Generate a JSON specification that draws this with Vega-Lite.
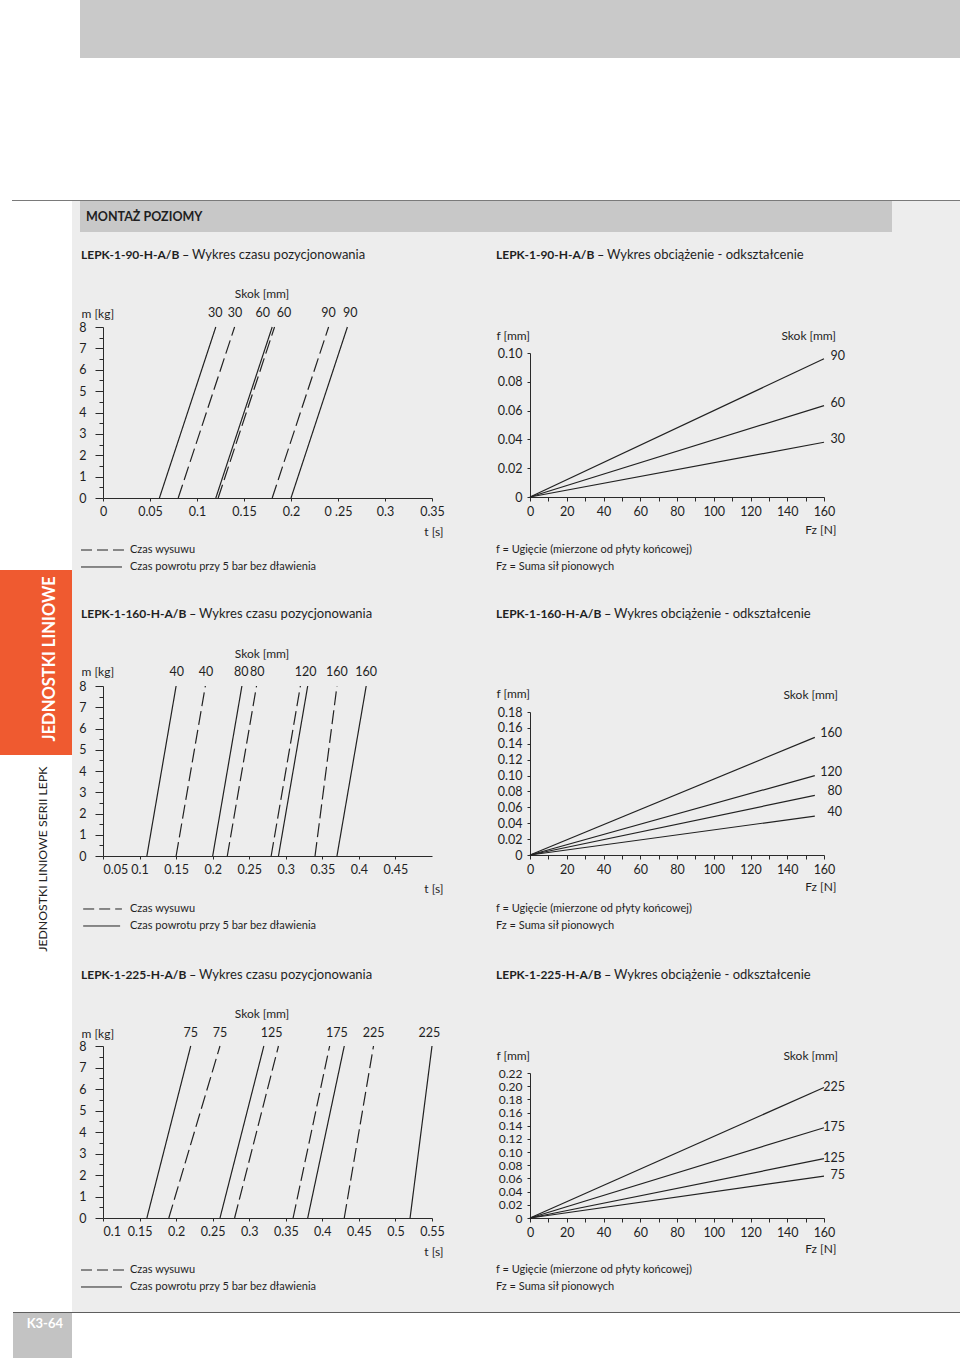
{
  "$schema": "https://vega.github.io/schema/vega-lite/v6.json",
  "background": "#ededed",
  "padding": 0,
  "spacing": 0,
  "config": {
    "view": {"stroke": null},
    "font": "Lato",
    "concat": {"spacing": 0},
    "text": {"font": "Lato", "color": "#1f1f1f", "baseline": "middle", "align": "center"},
    "axis": {
      "grid": false, "labelFont": "Lato", "labelFontSize": 12.5, "labelColor": "#1f1f1f",
      "titleFont": "Lato", "titleFontSize": 12, "titleFontWeight": "normal", "titleColor": "#1f1f1f",
      "domainColor": "#2a2a2a", "tickColor": "#2a2a2a", "labelFlush": false, "labelOverlap": false,
      "titleAngle": 0, "titleBaseline": "middle"
    }
  },
  "datasets": {
    "l1": [
      {"seria": "30-p", "typ": "powrot", "t": 0.06, "m": 0}, {"seria": "30-p", "typ": "powrot", "t": 0.12, "m": 8},
      {"seria": "30-w", "typ": "wysuw", "t": 0.08, "m": 0}, {"seria": "30-w", "typ": "wysuw", "t": 0.14, "m": 8},
      {"seria": "60-p", "typ": "powrot", "t": 0.12, "m": 0}, {"seria": "60-p", "typ": "powrot", "t": 0.18, "m": 8},
      {"seria": "60-w", "typ": "wysuw", "t": 0.1225, "m": 0}, {"seria": "60-w", "typ": "wysuw", "t": 0.1825, "m": 8},
      {"seria": "90-w", "typ": "wysuw", "t": 0.18, "m": 0}, {"seria": "90-w", "typ": "wysuw", "t": 0.24, "m": 8},
      {"seria": "90-p", "typ": "powrot", "t": 0.2, "m": 0}, {"seria": "90-p", "typ": "powrot", "t": 0.26, "m": 8}
    ],
    "k1": [
      {"skok": "30", "t": 0.1194}, {"skok": "30", "t": 0.1404}, {"skok": "60", "t": 0.17},
      {"skok": "60", "t": 0.1926}, {"skok": "90", "t": 0.24}, {"skok": "90", "t": 0.263}
    ],
    "l2": [
      {"seria": "40-p", "typ": "powrot", "t": 0.11, "m": 0}, {"seria": "40-p", "typ": "powrot", "t": 0.15, "m": 8},
      {"seria": "40-w", "typ": "wysuw", "t": 0.15, "m": 0}, {"seria": "40-w", "typ": "wysuw", "t": 0.19, "m": 8},
      {"seria": "80-p", "typ": "powrot", "t": 0.2, "m": 0}, {"seria": "80-p", "typ": "powrot", "t": 0.24, "m": 8},
      {"seria": "80-w", "typ": "wysuw", "t": 0.22, "m": 0}, {"seria": "80-w", "typ": "wysuw", "t": 0.26, "m": 8},
      {"seria": "120-w", "typ": "wysuw", "t": 0.28, "m": 0}, {"seria": "120-w", "typ": "wysuw", "t": 0.32, "m": 8},
      {"seria": "120-p", "typ": "powrot", "t": 0.29, "m": 0}, {"seria": "120-p", "typ": "powrot", "t": 0.33, "m": 8},
      {"seria": "160-w", "typ": "wysuw", "t": 0.34, "m": 0}, {"seria": "160-w", "typ": "wysuw", "t": 0.37, "m": 8},
      {"seria": "160-p", "typ": "powrot", "t": 0.37, "m": 0}, {"seria": "160-p", "typ": "powrot", "t": 0.41, "m": 8}
    ],
    "k2": [
      {"skok": "40", "t": 0.151}, {"skok": "40", "t": 0.191}, {"skok": "80", "t": 0.239}, {"skok": "80", "t": 0.261},
      {"skok": "120", "t": 0.327}, {"skok": "160", "t": 0.37}, {"skok": "160", "t": 0.41}
    ],
    "l3": [
      {"seria": "75-p", "typ": "powrot", "t": 0.16, "m": 0}, {"seria": "75-p", "typ": "powrot", "t": 0.22, "m": 8},
      {"seria": "75-w", "typ": "wysuw", "t": 0.19, "m": 0}, {"seria": "75-w", "typ": "wysuw", "t": 0.26, "m": 8},
      {"seria": "125-p", "typ": "powrot", "t": 0.26, "m": 0}, {"seria": "125-p", "typ": "powrot", "t": 0.32, "m": 8},
      {"seria": "125-w", "typ": "wysuw", "t": 0.28, "m": 0}, {"seria": "125-w", "typ": "wysuw", "t": 0.34, "m": 8},
      {"seria": "175-w", "typ": "wysuw", "t": 0.36, "m": 0}, {"seria": "175-w", "typ": "wysuw", "t": 0.41, "m": 8},
      {"seria": "175-p", "typ": "powrot", "t": 0.38, "m": 0}, {"seria": "175-p", "typ": "powrot", "t": 0.43, "m": 8},
      {"seria": "225-w", "typ": "wysuw", "t": 0.43, "m": 0}, {"seria": "225-w", "typ": "wysuw", "t": 0.47, "m": 8},
      {"seria": "225-p", "typ": "powrot", "t": 0.52, "m": 0}, {"seria": "225-p", "typ": "powrot", "t": 0.55, "m": 8}
    ],
    "k3": [
      {"skok": "75", "t": 0.22}, {"skok": "75", "t": 0.26}, {"skok": "125", "t": 0.3305},
      {"skok": "175", "t": 0.42}, {"skok": "225", "t": 0.47}, {"skok": "225", "t": 0.5464}
    ],
    "r1": [
      {"skok": "30", "Fz": 0, "f": 0}, {"skok": "30", "Fz": 160, "f": 0.038},
      {"skok": "60", "Fz": 0, "f": 0}, {"skok": "60", "Fz": 160, "f": 0.0635},
      {"skok": "90", "Fz": 0, "f": 0}, {"skok": "90", "Fz": 160, "f": 0.096}
    ],
    "r2": [
      {"skok": "40", "Fz": 0, "f": 0}, {"skok": "40", "Fz": 155, "f": 0.049},
      {"skok": "80", "Fz": 0, "f": 0}, {"skok": "80", "Fz": 155, "f": 0.075},
      {"skok": "120", "Fz": 0, "f": 0}, {"skok": "120", "Fz": 155, "f": 0.1},
      {"skok": "160", "Fz": 0, "f": 0}, {"skok": "160", "Fz": 155, "f": 0.148}
    ],
    "r3": [
      {"skok": "75", "Fz": 0, "f": 0}, {"skok": "75", "Fz": 160, "f": 0.0635},
      {"skok": "125", "Fz": 0, "f": 0}, {"skok": "125", "Fz": 160, "f": 0.09},
      {"skok": "175", "Fz": 0, "f": 0}, {"skok": "175", "Fz": 160, "f": 0.137},
      {"skok": "225", "Fz": 0, "f": 0}, {"skok": "225", "Fz": 160, "f": 0.198}
    ]
  },
  "vconcat": [
    {
      "hconcat": [
        {"width": 80, "height": 58, "view": {"fill": "#ffffff"}, "data": {"values": [{}]}, "mark": {"type": "text", "text": "", "fontSize": 0}, "encoding": {}},
        {"width": 880, "height": 58, "view": {"fill": "#c9c9c9"}, "data": {"values": [{}]}, "mark": {"type": "text", "text": "", "fontSize": 0}, "encoding": {}}
      ],
      "spacing": 0
    },
    {"width": 960, "height": 142, "view": {"fill": "#ffffff"}, "data": {"values": [{}]}, "mark": {"type": "text", "text": "", "fontSize": 0}, "encoding": {}},
    {
      "hconcat": [
        {"width": 12, "height": 1, "view": {"fill": "#ffffff"}, "data": {"values": [{}]}, "mark": {"type": "text", "text": "", "fontSize": 0}, "encoding": {}},
        {"width": 948, "height": 1, "view": {"fill": "#7a7a7a"}, "data": {"values": [{}]}, "mark": {"type": "text", "text": "", "fontSize": 0}, "encoding": {}}
      ],
      "spacing": 0
    },
    {
      "hconcat": [
        {
          "vconcat": [
            {"width": 72, "height": 369, "view": {"fill": "#ffffff"}, "data": {"values": [{}]}, "mark": {"type": "text", "text": "", "fontSize": 0}, "encoding": {}},
            {
              "width": 72, "height": 185, "view": {"fill": "#ef5a30"},
              "data": {"values": [{}]},
              "mark": {"type": "text", "text": "JEDNOSTKI LINIOWE", "angle": 270, "color": "#ffffff", "fontWeight": "bold", "fontSize": 16.5, "align": "center", "baseline": "middle"},
              "encoding": {
                "x": {"datum": 0.69, "type": "quantitative", "scale": {"domain": [0, 1]}, "axis": null},
                "y": {"datum": 0.52, "type": "quantitative", "scale": {"domain": [0, 1]}, "axis": null}
              }
            },
            {
              "width": 72, "height": 557, "view": {"fill": "#ffffff"},
              "data": {"values": [{}]},
              "mark": {"type": "text", "text": "JEDNOSTKI LINIOWE SERII LEPK", "angle": 270, "color": "#222222", "fontSize": 12.3, "align": "center", "baseline": "middle"},
              "encoding": {
                "x": {"datum": 0.6, "type": "quantitative", "scale": {"domain": [0, 1]}, "axis": null},
                "y": {"datum": 0.813, "type": "quantitative", "scale": {"domain": [0, 1]}, "axis": null}
              }
            }
          ],
          "spacing": 0
        },
        {
          "vconcat": [
            {
              "hconcat": [
                {"width": 8, "height": 31, "data": {"values": [{}]}, "mark": {"type": "text", "text": "", "fontSize": 0}, "encoding": {}},
                {
                  "width": 812, "height": 31, "view": {"fill": "#c8c8c8"},
                  "data": {"values": [{}]},
                  "mark": {"type": "text", "text": "MONTAŻ POZIOMY", "fontWeight": "bold", "fontSize": 12.5, "align": "left", "baseline": "middle", "color": "#1f1f1f"},
                  "encoding": {
                    "x": {"datum": 0.0074, "type": "quantitative", "scale": {"domain": [0, 1]}, "axis": null},
                    "y": {"datum": 0.5, "type": "quantitative", "scale": {"domain": [0, 1]}, "axis": null}
                  }
                }
              ],
              "spacing": 0
            },
            {
              "width": 888,
              "height": 1080,
              "layer": [
                {
                  "layer": [
                    {
                      "data": {"name": "l1"},
                      "mark": {"type": "line", "color": "#222222", "strokeWidth": 1.2},
                      "encoding": {
                        "x": {"field": "t", "type": "quantitative", "scale": {"domain": [0, 0.35], "range": [31, 360]},
                          "axis": {"orient": "bottom", "offset": -814, "values": [0, 0.05, 0.1, 0.15, 0.2, 0.25, 0.3, 0.35], "labelExpr": "datum.value == 0.25 ? '0 .25' : toString(datum.value)", "tickSize": 3, "labelPadding": 4, "title": "t [s]", "titleX": 371, "titleY": 33, "titleAlign": "right"}},
                        "y": {"field": "m", "type": "quantitative", "scale": {"domain": [0, 8], "range": [266, 95]},
                          "axis": {"orient": "left", "offset": -31, "values": [0, 0.5, 1, 1.5, 2, 2.5, 3, 3.5, 4, 4.5, 5, 5.5, 6, 6.5, 7, 7.5, 8], "labelExpr": "datum.value % 1 == 0 ? toString(datum.value) : ''", "tickSize": {"condition": {"test": "datum.value % 1 == 0", "value": 8}, "value": 4}, "labelPadding": 9, "title": "m [kg]", "titleX": -22, "titleY": 81, "titleAlign": "left"}},
                        "detail": {"field": "seria"},
                        "strokeDash": {"field": "typ", "type": "nominal", "scale": {"domain": ["wysuw", "powrot"], "range": [[14, 5], [1, 0]]}, "legend": null}
                      }
                    },
                    {
                      "data": {"name": "k1"},
                      "mark": {"type": "text", "dy": -14, "fontSize": 12.5},
                      "encoding": {"x": {"field": "t", "type": "quantitative"}, "y": {"datum": 8, "type": "quantitative"}, "text": {"field": "skok"}}
                    },
                    {"data": {"values": [{}]}, "mark": {"type": "text", "text": "Skok [mm]", "dx": 159, "dy": -33, "fontSize": 12}, "encoding": {"x": {"datum": 0, "type": "quantitative"}, "y": {"datum": 8, "type": "quantitative"}}},
                    {"data": {"values": [{}]}, "mark": {"type": "text", "text": "LEPK-1-90-H-A/B –", "align": "left", "fontWeight": "bold", "fontSize": 12, "dx": -22, "dy": -72}, "encoding": {"x": {"datum": 0, "type": "quantitative"}, "y": {"datum": 8, "type": "quantitative"}}},
                    {"data": {"values": [{}]}, "mark": {"type": "text", "text": "Wykres czasu pozycjonowania", "align": "left", "fontSize": 13, "dx": 89, "dy": -72}, "encoding": {"x": {"datum": 0, "type": "quantitative"}, "y": {"datum": 8, "type": "quantitative"}}},
                    {"data": {"values": [{}]}, "mark": {"type": "rule", "color": "#222222", "strokeDash": [11, 5]}, "encoding": {"x": {"datum": -0.0234, "type": "quantitative"}, "x2": {"datum": 0.0223}, "y": {"datum": -2.433, "type": "quantitative"}}},
                    {"data": {"values": [{}]}, "mark": {"type": "rule", "color": "#222222"}, "encoding": {"x": {"datum": -0.0234, "type": "quantitative"}, "x2": {"datum": 0.0202}, "y": {"datum": -3.228, "type": "quantitative"}}},
                    {"data": {"values": [{}]}, "mark": {"type": "text", "text": "Czas wysuwu", "align": "left", "fontSize": 11, "dx": 27, "dy": 52}, "encoding": {"x": {"datum": 0, "type": "quantitative"}, "y": {"datum": 0, "type": "quantitative"}}},
                    {"data": {"values": [{}]}, "mark": {"type": "text", "text": "Czas powrotu przy 5 bar bez dławienia", "align": "left", "fontSize": 11, "dx": 27, "dy": 69}, "encoding": {"x": {"datum": 0, "type": "quantitative"}, "y": {"datum": 0, "type": "quantitative"}}}
                  ]
                },
                {
                  "layer": [
                    {
                      "data": {"name": "l2"},
                      "mark": {"type": "line", "color": "#222222", "strokeWidth": 1.2},
                      "encoding": {
                        "x": {"field": "t", "type": "quantitative", "scale": {"domain": [0.05, 0.455], "range": [31, 360]},
                          "axis": {"orient": "bottom", "offset": -456, "values": [0.05, 0.1, 0.15, 0.2, 0.25, 0.3, 0.35, 0.4, 0.45], "labelExpr": "toString(datum.value)", "labelAlign": {"condition": {"test": "datum.value == 0.05", "value": "left"}, "value": "center"}, "tickSize": 3, "labelPadding": 4, "title": "t [s]", "titleX": 371, "titleY": 32, "titleAlign": "right"}},
                        "y": {"field": "m", "type": "quantitative", "scale": {"domain": [0, 8], "range": [624, 454]},
                          "axis": {"orient": "left", "offset": -31, "values": [0, 0.5, 1, 1.5, 2, 2.5, 3, 3.5, 4, 4.5, 5, 5.5, 6, 6.5, 7, 7.5, 8], "labelExpr": "datum.value % 1 == 0 ? toString(datum.value) : ''", "tickSize": {"condition": {"test": "datum.value % 1 == 0", "value": 8}, "value": 4}, "labelPadding": 9, "title": "m [kg]", "titleX": -22, "titleY": 439, "titleAlign": "left"}},
                        "detail": {"field": "seria"},
                        "strokeDash": {"field": "typ", "type": "nominal", "scale": {"domain": ["wysuw", "powrot"], "range": [[14, 5], [1, 0]]}, "legend": null}
                      }
                    },
                    {
                      "data": {"name": "k2"},
                      "mark": {"type": "text", "dy": -14, "fontSize": 12.5},
                      "encoding": {"x": {"field": "t", "type": "quantitative"}, "y": {"datum": 8, "type": "quantitative"}, "text": {"field": "skok"}}
                    },
                    {"data": {"values": [{}]}, "mark": {"type": "text", "text": "Skok [mm]", "dx": 159, "dy": -32, "fontSize": 12}, "encoding": {"x": {"datum": 0.05, "type": "quantitative"}, "y": {"datum": 8, "type": "quantitative"}}},
                    {"data": {"values": [{}]}, "mark": {"type": "text", "text": "LEPK-1-160-H-A/B –", "align": "left", "fontWeight": "bold", "fontSize": 12, "dx": -22, "dy": -72}, "encoding": {"x": {"datum": 0.05, "type": "quantitative"}, "y": {"datum": 8, "type": "quantitative"}}},
                    {"data": {"values": [{}]}, "mark": {"type": "text", "text": "Wykres czasu pozycjonowania", "align": "left", "fontSize": 13, "dx": 96, "dy": -72}, "encoding": {"x": {"datum": 0.05, "type": "quantitative"}, "y": {"datum": 8, "type": "quantitative"}}},
                    {"data": {"values": [{}]}, "mark": {"type": "rule", "color": "#222222", "strokeDash": [11, 5]}, "encoding": {"x": {"datum": 0.0229, "type": "quantitative"}, "x2": {"datum": 0.0759}, "y": {"datum": -2.494, "type": "quantitative"}}},
                    {"data": {"values": [{}]}, "mark": {"type": "rule", "color": "#222222"}, "encoding": {"x": {"datum": 0.0229, "type": "quantitative"}, "x2": {"datum": 0.0734}, "y": {"datum": -3.294, "type": "quantitative"}}},
                    {"data": {"values": [{}]}, "mark": {"type": "text", "text": "Czas wysuwu", "align": "left", "fontSize": 11, "dx": 27, "dy": 53}, "encoding": {"x": {"datum": 0.05, "type": "quantitative"}, "y": {"datum": 0, "type": "quantitative"}}},
                    {"data": {"values": [{}]}, "mark": {"type": "text", "text": "Czas powrotu przy 5 bar bez dławienia", "align": "left", "fontSize": 11, "dx": 27, "dy": 70}, "encoding": {"x": {"datum": 0.05, "type": "quantitative"}, "y": {"datum": 0, "type": "quantitative"}}}
                  ]
                },
                {
                  "layer": [
                    {
                      "data": {"name": "l3"},
                      "mark": {"type": "line", "color": "#222222", "strokeWidth": 1.2},
                      "encoding": {
                        "x": {"field": "t", "type": "quantitative", "scale": {"domain": [0.1, 0.55], "range": [31, 360]},
                          "axis": {"orient": "bottom", "offset": -94, "values": [0.1, 0.15, 0.2, 0.25, 0.3, 0.35, 0.4, 0.45, 0.5, 0.55], "labelExpr": "toString(datum.value)", "labelAlign": {"condition": {"test": "datum.value == 0.1", "value": "left"}, "value": "center"}, "tickSize": 3, "labelPadding": 4, "title": "t [s]", "titleX": 371, "titleY": 33, "titleAlign": "right"}},
                        "y": {"field": "m", "type": "quantitative", "scale": {"domain": [0, 8], "range": [986, 814]},
                          "axis": {"orient": "left", "offset": -31, "values": [0, 0.5, 1, 1.5, 2, 2.5, 3, 3.5, 4, 4.5, 5, 5.5, 6, 6.5, 7, 7.5, 8], "labelExpr": "datum.value % 1 == 0 ? toString(datum.value) : ''", "tickSize": {"condition": {"test": "datum.value % 1 == 0", "value": 8}, "value": 4}, "labelPadding": 9, "title": "m [kg]", "titleX": -22, "titleY": 801, "titleAlign": "left"}},
                        "detail": {"field": "seria"},
                        "strokeDash": {"field": "typ", "type": "nominal", "scale": {"domain": ["wysuw", "powrot"], "range": [[14, 5], [1, 0]]}, "legend": null}
                      }
                    },
                    {
                      "data": {"name": "k3"},
                      "mark": {"type": "text", "dy": -13, "fontSize": 12.5},
                      "encoding": {"x": {"field": "t", "type": "quantitative"}, "y": {"datum": 8, "type": "quantitative"}, "text": {"field": "skok"}}
                    },
                    {"data": {"values": [{}]}, "mark": {"type": "text", "text": "Skok [mm]", "dx": 159, "dy": -32, "fontSize": 12}, "encoding": {"x": {"datum": 0.1, "type": "quantitative"}, "y": {"datum": 8, "type": "quantitative"}}},
                    {"data": {"values": [{}]}, "mark": {"type": "text", "text": "LEPK-1-225-H-A/B –", "align": "left", "fontWeight": "bold", "fontSize": 12, "dx": -22, "dy": -71}, "encoding": {"x": {"datum": 0.1, "type": "quantitative"}, "y": {"datum": 8, "type": "quantitative"}}},
                    {"data": {"values": [{}]}, "mark": {"type": "text", "text": "Wykres czasu pozycjonowania", "align": "left", "fontSize": 13, "dx": 96, "dy": -71}, "encoding": {"x": {"datum": 0.1, "type": "quantitative"}, "y": {"datum": 8, "type": "quantitative"}}},
                    {"data": {"values": [{}]}, "mark": {"type": "rule", "color": "#222222", "strokeDash": [11, 5]}, "encoding": {"x": {"datum": 0.0699, "type": "quantitative"}, "x2": {"datum": 0.1287}, "y": {"datum": -2.419, "type": "quantitative"}}},
                    {"data": {"values": [{}]}, "mark": {"type": "rule", "color": "#222222"}, "encoding": {"x": {"datum": 0.0699, "type": "quantitative"}, "x2": {"datum": 0.126}, "y": {"datum": -3.209, "type": "quantitative"}}},
                    {"data": {"values": [{}]}, "mark": {"type": "text", "text": "Czas wysuwu", "align": "left", "fontSize": 11, "dx": 27, "dy": 52}, "encoding": {"x": {"datum": 0.1, "type": "quantitative"}, "y": {"datum": 0, "type": "quantitative"}}},
                    {"data": {"values": [{}]}, "mark": {"type": "text", "text": "Czas powrotu przy 5 bar bez dławienia", "align": "left", "fontSize": 11, "dx": 27, "dy": 69}, "encoding": {"x": {"datum": 0.1, "type": "quantitative"}, "y": {"datum": 0, "type": "quantitative"}}}
                  ]
                },
                {
                  "layer": [
                    {
                      "data": {"name": "r1"},
                      "mark": {"type": "line", "color": "#222222", "strokeWidth": 1.2},
                      "encoding": {
                        "x": {"field": "Fz", "type": "quantitative", "scale": {"domain": [0, 160], "range": [458, 752]},
                          "axis": {"orient": "bottom", "offset": -815, "values": [0, 10, 20, 30, 40, 50, 60, 70, 80, 90, 100, 110, 120, 130, 140, 150, 160], "labelExpr": "datum.value % 20 == 0 ? toString(datum.value) : ''", "tickSize": 4, "labelPadding": 4, "title": "Fz [N]", "titleX": 764, "titleY": 32, "titleAlign": "right"}},
                        "y": {"field": "f", "type": "quantitative", "scale": {"domain": [0, 0.1], "range": [265, 121]},
                          "axis": {"orient": "left", "offset": -458, "values": [0, 0.02, 0.04, 0.06, 0.08, 0.1], "labelExpr": "datum.value == 0 ? '0' : format(datum.value, '.2f')", "tickSize": 3, "labelPadding": 5, "title": "f [mm]", "titleX": -34, "titleY": 103, "titleAlign": "left"}},
                        "detail": {"field": "skok"}
                      }
                    },
                    {
                      "data": {"name": "r1"},
                      "transform": [{"filter": "datum.Fz > 0"}],
                      "mark": {"type": "text", "align": "right", "dx": 21, "dy": -3, "fontSize": 12.5},
                      "encoding": {"x": {"datum": 160, "type": "quantitative"}, "y": {"field": "f", "type": "quantitative"}, "text": {"field": "skok"}}
                    },
                    {"data": {"values": [{}]}, "mark": {"type": "text", "text": "Skok [mm]", "align": "right", "dx": 12, "dy": -17, "fontSize": 12}, "encoding": {"x": {"datum": 160, "type": "quantitative"}, "y": {"datum": 0.1, "type": "quantitative"}}},
                    {"data": {"values": [{}]}, "mark": {"type": "text", "text": "LEPK-1-90-H-A/B –", "align": "left", "fontWeight": "bold", "fontSize": 12, "dx": -34, "dy": -98}, "encoding": {"x": {"datum": 0, "type": "quantitative"}, "y": {"datum": 0.1, "type": "quantitative"}}},
                    {"data": {"values": [{}]}, "mark": {"type": "text", "text": "Wykres obciążenie - odkształcenie", "align": "left", "fontSize": 13, "dx": 77, "dy": -98}, "encoding": {"x": {"datum": 0, "type": "quantitative"}, "y": {"datum": 0.1, "type": "quantitative"}}},
                    {"data": {"values": [{}]}, "mark": {"type": "text", "text": "f    = Ugięcie (mierzone od płyty końcowej)", "align": "left", "fontSize": 11, "dx": -34, "dy": 53}, "encoding": {"x": {"datum": 0, "type": "quantitative"}, "y": {"datum": 0, "type": "quantitative"}}},
                    {"data": {"values": [{}]}, "mark": {"type": "text", "text": "Fz = Suma sił pionowych", "align": "left", "fontSize": 11, "dx": -34, "dy": 70}, "encoding": {"x": {"datum": 0, "type": "quantitative"}, "y": {"datum": 0, "type": "quantitative"}}}
                  ]
                },
                {
                  "layer": [
                    {
                      "data": {"name": "r2"},
                      "mark": {"type": "line", "color": "#222222", "strokeWidth": 1.2},
                      "encoding": {
                        "x": {"field": "Fz", "type": "quantitative", "scale": {"domain": [0, 160], "range": [458, 752]},
                          "axis": {"orient": "bottom", "offset": -457, "values": [0, 10, 20, 30, 40, 50, 60, 70, 80, 90, 100, 110, 120, 130, 140, 150, 160], "labelExpr": "datum.value % 20 == 0 ? toString(datum.value) : ''", "tickSize": 4, "labelPadding": 4, "title": "Fz [N]", "titleX": 764, "titleY": 31, "titleAlign": "right"}},
                        "y": {"field": "f", "type": "quantitative", "scale": {"domain": [0, 0.18], "range": [623, 480]},
                          "axis": {"orient": "left", "offset": -458, "values": [0, 0.02, 0.04, 0.06, 0.08, 0.1, 0.12, 0.14, 0.16, 0.18], "labelExpr": "datum.value == 0 ? '0' : format(datum.value, '.2f')", "tickSize": 3, "labelPadding": 5, "title": "f [mm]", "titleX": -34, "titleY": 461, "titleAlign": "left"}},
                        "detail": {"field": "skok"}
                      }
                    },
                    {
                      "data": {"name": "r2"},
                      "transform": [{"filter": "datum.Fz > 0"}],
                      "mark": {"type": "text", "align": "right", "dx": 18, "dy": -4, "fontSize": 12.5},
                      "encoding": {"x": {"datum": 160, "type": "quantitative"}, "y": {"field": "f", "type": "quantitative"}, "text": {"field": "skok"}}
                    },
                    {"data": {"values": [{}]}, "mark": {"type": "text", "text": "Skok [mm]", "align": "right", "dx": 14, "dy": -17, "fontSize": 12}, "encoding": {"x": {"datum": 160, "type": "quantitative"}, "y": {"datum": 0.18, "type": "quantitative"}}},
                    {"data": {"values": [{}]}, "mark": {"type": "text", "text": "LEPK-1-160-H-A/B –", "align": "left", "fontWeight": "bold", "fontSize": 12, "dx": -34, "dy": -98}, "encoding": {"x": {"datum": 0, "type": "quantitative"}, "y": {"datum": 0.18, "type": "quantitative"}}},
                    {"data": {"values": [{}]}, "mark": {"type": "text", "text": "Wykres obciążenie - odkształcenie", "align": "left", "fontSize": 13, "dx": 84, "dy": -98}, "encoding": {"x": {"datum": 0, "type": "quantitative"}, "y": {"datum": 0.18, "type": "quantitative"}}},
                    {"data": {"values": [{}]}, "mark": {"type": "text", "text": "f    = Ugięcie (mierzone od płyty końcowej)", "align": "left", "fontSize": 11, "dx": -34, "dy": 54}, "encoding": {"x": {"datum": 0, "type": "quantitative"}, "y": {"datum": 0, "type": "quantitative"}}},
                    {"data": {"values": [{}]}, "mark": {"type": "text", "text": "Fz = Suma sił pionowych", "align": "left", "fontSize": 11, "dx": -34, "dy": 71}, "encoding": {"x": {"datum": 0, "type": "quantitative"}, "y": {"datum": 0, "type": "quantitative"}}}
                  ]
                },
                {
                  "layer": [
                    {
                      "data": {"name": "r3"},
                      "mark": {"type": "line", "color": "#222222", "strokeWidth": 1.2},
                      "encoding": {
                        "x": {"field": "Fz", "type": "quantitative", "scale": {"domain": [0, 160], "range": [458, 752]},
                          "axis": {"orient": "bottom", "offset": -94, "values": [0, 10, 20, 30, 40, 50, 60, 70, 80, 90, 100, 110, 120, 130, 140, 150, 160], "labelExpr": "datum.value % 20 == 0 ? toString(datum.value) : ''", "tickSize": 4, "labelPadding": 4, "title": "Fz [N]", "titleX": 764, "titleY": 30, "titleAlign": "right"}},
                        "y": {"field": "f", "type": "quantitative", "scale": {"domain": [0, 0.22], "range": [986, 841]},
                          "axis": {"orient": "left", "offset": -458, "values": [0, 0.02, 0.04, 0.06, 0.08, 0.1, 0.12, 0.14, 0.16, 0.18, 0.2, 0.22], "labelExpr": "datum.value == 0 ? '0' : format(datum.value, '.2f')", "labelFontSize": 12, "tickSize": 3, "labelPadding": 5, "title": "f [mm]", "titleX": -34, "titleY": 823, "titleAlign": "left"}},
                        "detail": {"field": "skok"}
                      }
                    },
                    {
                      "data": {"name": "r3"},
                      "transform": [{"filter": "datum.Fz > 0"}],
                      "mark": {"type": "text", "align": "right", "dx": 21, "dy": -1, "fontSize": 12.5},
                      "encoding": {"x": {"datum": 160, "type": "quantitative"}, "y": {"field": "f", "type": "quantitative"}, "text": {"field": "skok"}}
                    },
                    {"data": {"values": [{}]}, "mark": {"type": "text", "text": "Skok [mm]", "align": "right", "dx": 14, "dy": -17, "fontSize": 12}, "encoding": {"x": {"datum": 160, "type": "quantitative"}, "y": {"datum": 0.22, "type": "quantitative"}}},
                    {"data": {"values": [{}]}, "mark": {"type": "text", "text": "LEPK-1-225-H-A/B –", "align": "left", "fontWeight": "bold", "fontSize": 12, "dx": -34, "dy": -98}, "encoding": {"x": {"datum": 0, "type": "quantitative"}, "y": {"datum": 0.22, "type": "quantitative"}}},
                    {"data": {"values": [{}]}, "mark": {"type": "text", "text": "Wykres obciążenie - odkształcenie", "align": "left", "fontSize": 13, "dx": 84, "dy": -98}, "encoding": {"x": {"datum": 0, "type": "quantitative"}, "y": {"datum": 0.22, "type": "quantitative"}}},
                    {"data": {"values": [{}]}, "mark": {"type": "text", "text": "f    = Ugięcie (mierzone od płyty końcowej)", "align": "left", "fontSize": 11, "dx": -34, "dy": 52}, "encoding": {"x": {"datum": 0, "type": "quantitative"}, "y": {"datum": 0, "type": "quantitative"}}},
                    {"data": {"values": [{}]}, "mark": {"type": "text", "text": "Fz = Suma sił pionowych", "align": "left", "fontSize": 11, "dx": -34, "dy": 69}, "encoding": {"x": {"datum": 0, "type": "quantitative"}, "y": {"datum": 0, "type": "quantitative"}}}
                  ]
                }
              ],
              "resolve": {"scale": {"x": "independent", "y": "independent"}, "axis": {"x": "independent", "y": "independent"}}
            }
          ],
          "spacing": 0
        }
      ],
      "spacing": 0
    },
    {
      "hconcat": [
        {"width": 13, "height": 1, "view": {"fill": "#ffffff"}, "data": {"values": [{}]}, "mark": {"type": "text", "text": "", "fontSize": 0}, "encoding": {}},
        {"width": 947, "height": 1, "view": {"fill": "#5e5e5e"}, "data": {"values": [{}]}, "mark": {"type": "text", "text": "", "fontSize": 0}, "encoding": {}}
      ],
      "spacing": 0
    },
    {
      "hconcat": [
        {"width": 13, "height": 45, "view": {"fill": "#ffffff"}, "data": {"values": [{}]}, "mark": {"type": "text", "text": "", "fontSize": 0}, "encoding": {}},
        {
          "width": 59, "height": 45, "view": {"fill": "#c3c3c3"},
          "data": {"values": [{}]},
          "mark": {"type": "text", "text": "K3-64", "color": "#ffffff", "fontWeight": "bold", "fontSize": 13, "align": "center", "baseline": "middle"},
          "encoding": {
            "x": {"datum": 0.54, "type": "quantitative", "scale": {"domain": [0, 1]}, "axis": null},
            "y": {"datum": 0.756, "type": "quantitative", "scale": {"domain": [0, 1]}, "axis": null}
          }
        },
        {"width": 888, "height": 45, "view": {"fill": "#ffffff"}, "data": {"values": [{}]}, "mark": {"type": "text", "text": "", "fontSize": 0}, "encoding": {}}
      ],
      "spacing": 0
    }
  ]
}
